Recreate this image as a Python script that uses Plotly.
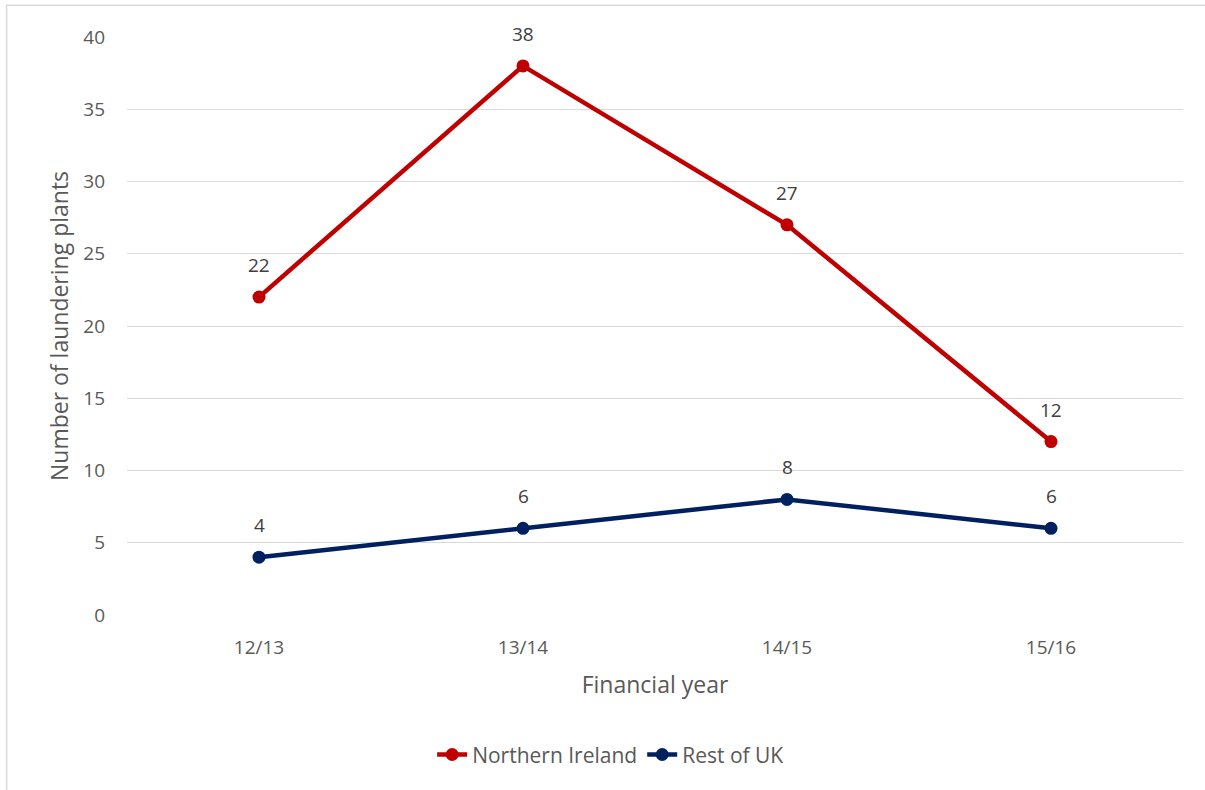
import plotly.graph_objects as go

years = ["12/13", "13/14", "14/15", "15/16"]
northern_ireland = [22, 38, 27, 12]
rest_of_uk = [4, 6, 8, 6]
y_ticks = [0, 5, 10, 15, 20, 25, 30, 35, 40]

RED = "#C00000"
NAVY = "#002060"
FONT = "'Open Sans', sans-serif"

fig = go.Figure()
for name, vals, col in [("Northern Ireland", northern_ireland, RED),
                        ("Rest of UK", rest_of_uk, NAVY)]:
    fig.add_trace(go.Scatter(
        x=years, y=vals, name=name, mode="lines+markers",
        line=dict(color=col, width=4.5),
        marker=dict(color=col, size=13),
    ))
    for xv, yv in zip(years, vals):
        fig.add_annotation(x=xv, y=yv, text=str(yv), showarrow=False,
                           yshift=32, font=dict(size=19, color="#404040", family=FONT))

fig.add_shape(type="rect", xref="paper", yref="paper",
              x0=-0.114, x1=1.05, y0=-0.5, y1=1.055,
              line=dict(color="#d9d9d9", width=1.5), layer="below")

fig.update_layout(
    width=1205, height=790,
    margin=dict(l=127, r=22, t=37, b=175),
    paper_bgcolor="white", plot_bgcolor="white",
    font=dict(family=FONT, color="#595959", size=16),
    showlegend=True,
    legend=dict(orientation="h", x=0.458, xanchor="center",
                y=-0.242, yanchor="middle",
                font=dict(size=21, color="#595959")),
    xaxis=dict(range=[-0.5, 3.5], showgrid=False, showline=False, zeroline=False,
               ticks="", tickfont=dict(size=19), ticklabelstandoff=19,
               title=dict(text="Financial year", font=dict(size=23), standoff=17)),
    yaxis=dict(range=[0, 40], tickvals=y_ticks, showgrid=True, gridcolor="#d9d9d9",
               gridwidth=1, zeroline=False, showline=False, ticks="",
               tickfont=dict(size=19), ticklabelstandoff=21,
               title=dict(text="Number of laundering plants", font=dict(size=23), standoff=8)),
)

fig.write_html("out.html")
